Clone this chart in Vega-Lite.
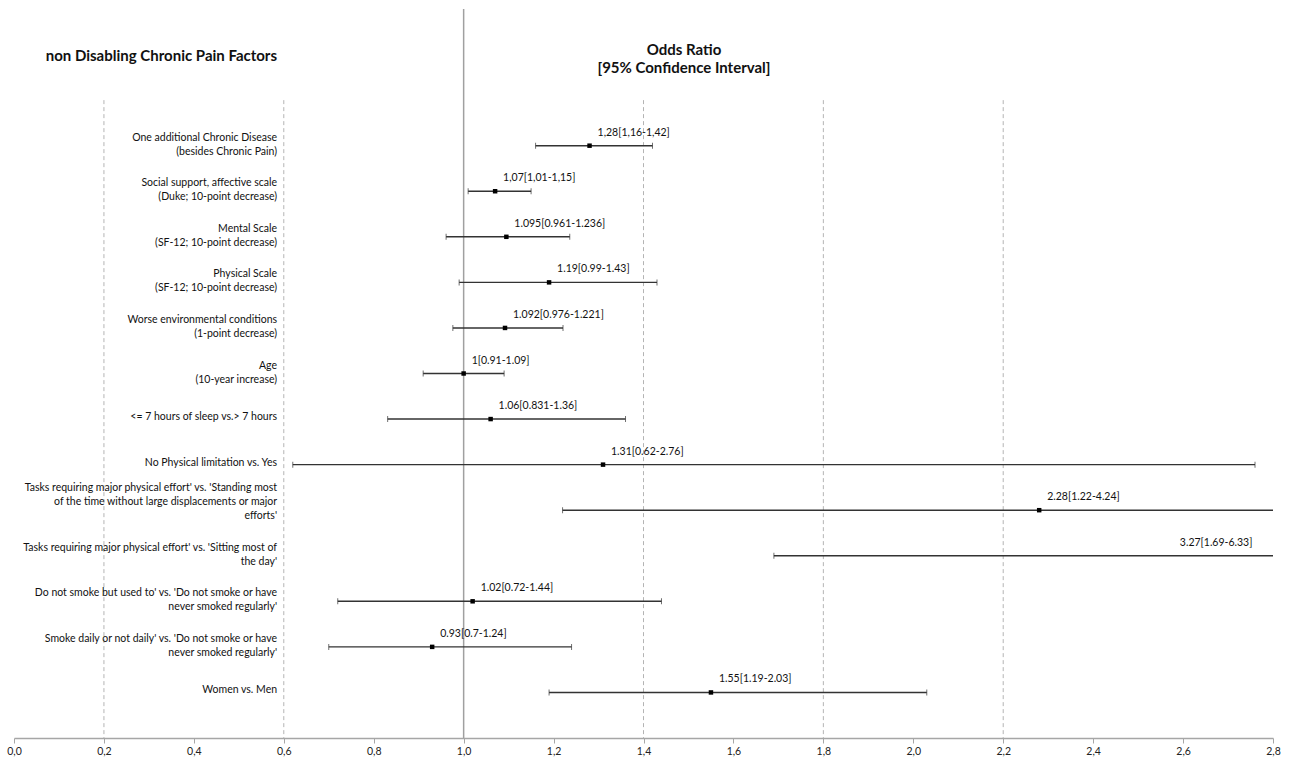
{
  "$schema": "https://vega.github.io/schema/vega-lite/v6.json",
  "width": 1259,
  "height": 729,
  "autosize": {"type": "none"},
  "padding": {"left": 14, "top": 9, "right": 18, "bottom": 20},
  "background": "white",
  "config": {
    "view": {"stroke": null},
    "font": "Lato",
    "axisX": {"grid": false,
      "domainColor": "#a6a6a6", "domainWidth": 1.5, "tickColor": "#a6a6a6", "tickSize": 5, "labelColor": "#222222",
      "labelFontSize": 10.5, "labelFont": "Lato", "labelPadding": 3, "labelFlush": false, "labelOverlap": false}
  },
  "datasets": {
    "rows": [
      {"row": 1, "label": ["One additional Chronic Disease", "(besides Chronic Pain)"], "or": 1.28, "lo": 1.16, "hi": 1.42, "txt": "1,28[1,16-1,42]"},
      {"row": 2, "label": ["Social support, affective scale", "(Duke; 10-point  decrease)"], "or": 1.07, "lo": 1.01, "hi": 1.15, "txt": "1,07[1,01-1,15]"},
      {"row": 3, "label": ["Mental Scale", "(SF-12; 10-point decrease)"], "or": 1.095, "lo": 0.961, "hi": 1.236, "txt": "1.095[0.961-1.236]"},
      {"row": 4, "label": ["Physical Scale", "(SF-12; 10-point decrease)"], "or": 1.19, "lo": 0.99, "hi": 1.43, "txt": "1.19[0.99-1.43]"},
      {"row": 5, "label": ["Worse environmental conditions", "(1-point decrease)"], "or": 1.092, "lo": 0.976, "hi": 1.221, "txt": "1.092[0.976-1.221]"},
      {"row": 6, "label": ["Age", "(10-year increase)"], "or": 1.0, "lo": 0.91, "hi": 1.09, "txt": "1[0.91-1.09]"},
      {"row": 7, "label": ["<= 7 hours of sleep vs.> 7 hours"], "or": 1.06, "lo": 0.831, "hi": 1.36, "txt": "1.06[0.831-1.36]"},
      {"row": 8, "label": ["No Physical limitation vs. Yes  "], "or": 1.31, "lo": 0.62, "hi": 2.76, "txt": "1.31[0.62-2.76]"},
      {"row": 9, "label": ["Tasks requiring major physical effort' vs. 'Standing most", "of the time without large displacements or major", "efforts'"], "or": 2.28, "lo": 1.22, "hi": 4.24, "txt": "2.28[1.22-4.24]"},
      {"row": 10, "label": ["Tasks requiring major physical effort' vs. 'Sitting most of", "the day'"], "or": 3.27, "lo": 1.69, "hi": 6.33, "txt": "3.27[1.69-6.33]"},
      {"row": 11, "label": ["Do not smoke but used to' vs. 'Do not smoke or have", "never smoked regularly'"], "or": 1.02, "lo": 0.72, "hi": 1.44, "txt": "1.02[0.72-1.44]"},
      {"row": 12, "label": ["Smoke daily or not daily' vs. 'Do not smoke or have", "never smoked regularly'"], "or": 0.93, "lo": 0.7, "hi": 1.24, "txt": "0.93[0.7-1.24]"},
      {"row": 13, "label": ["Women vs. Men"], "or": 1.55, "lo": 1.19, "hi": 2.03, "txt": "1.55[1.19-2.03]"}
    ],
    "grid": [{"g": 0.2}, {"g": 0.6}, {"g": 1.4}, {"g": 1.8}, {"g": 2.2}],
    "ref": [{"g": 1.0}],
    "head1": [{"x": 0.585, "row": -1, "t": ["non Disabling Chronic Pain Factors"]}],
    "head2": [{"x": 1.49, "row": -1, "t": ["Odds Ratio", "[95% Confidence Interval]"]}]
  },
  "layer": [
    {
      "data": {"name": "grid"},
      "mark": {"type": "rule", "strokeDash": [4, 3], "color": "#b4b4b4", "strokeWidth": 1},
      "encoding": {
        "x": {"field": "g", "type": "quantitative", "title": null, "scale": {"domain": [0, 2.8], "nice": false, "zero": false},
          "axis": {"values": [0, 0.2, 0.4, 0.6, 0.8, 1.0, 1.2, 1.4, 1.6, 1.8, 2.0, 2.2, 2.4, 2.6, 2.8],
            "labelExpr": "replace(format(datum.value, '.1f'), '.', ',')", "title": null}},
        "y": {"datum": 0, "type": "quantitative", "scale": {"domain": [-2, 14], "reverse": true, "nice": false, "zero": false}, "axis": null},
        "y2": {"datum": 14}
      }
    },
    {
      "data": {"name": "ref"},
      "mark": {"type": "rule", "color": "#a0a0a0", "strokeWidth": 1.5},
      "encoding": {
        "x": {"field": "g", "type": "quantitative", "title": null},
        "y": {"datum": -2, "type": "quantitative", "axis": null},
        "y2": {"datum": 14}
      }
    },
    {
      "data": {"name": "rows"},
      "mark": {"type": "rule", "color": "#333333", "strokeWidth": 1.4, "clip": true},
      "encoding": {
        "x": {"field": "lo", "type": "quantitative", "title": null},
        "x2": {"field": "hi"},
        "y": {"field": "row", "type": "quantitative", "axis": null}
      }
    },
    {
      "data": {"name": "rows"},
      "mark": {"type": "tick", "color": "#333333", "thickness": 1, "size": 6, "clip": true},
      "encoding": {
        "x": {"field": "lo", "type": "quantitative", "title": null},
        "y": {"field": "row", "type": "quantitative", "axis": null}
      }
    },
    {
      "data": {"name": "rows"},
      "mark": {"type": "tick", "color": "#333333", "thickness": 1, "size": 6, "clip": true},
      "encoding": {
        "x": {"field": "hi", "type": "quantitative", "title": null},
        "y": {"field": "row", "type": "quantitative", "axis": null}
      }
    },
    {
      "data": {"name": "rows"},
      "mark": {"type": "square", "color": "#000000", "size": 20, "opacity": 1, "filled": true, "clip": true},
      "encoding": {
        "x": {"field": "or", "type": "quantitative", "title": null},
        "y": {"field": "row", "type": "quantitative", "axis": null}
      }
    },
    {
      "data": {"name": "rows"},
      "transform": [{"calculate": "min(datum.or, 2.575)", "as": "lx"}],
      "mark": {"type": "text", "align": "left", "baseline": "middle", "dx": 8, "dy": -13, "fontSize": 10.5, "color": "#111111", "font": "Lato"},
      "encoding": {
        "x": {"field": "lx", "type": "quantitative", "title": null},
        "y": {"field": "row", "type": "quantitative", "axis": null},
        "text": {"field": "txt"}
      }
    },
    {
      "data": {"name": "rows"},
      "transform": [{"filter": "length(datum.label) == 1"}],
      "mark": {"type": "text", "align": "right", "baseline": "middle", "dy": -2, "fontSize": 10.5, "lineHeight": 14, "color": "#111111", "font": "Lato"},
      "encoding": {
        "x": {"datum": 0.585, "type": "quantitative", "title": null},
        "y": {"field": "row", "type": "quantitative", "axis": null},
        "text": {"field": "label"}
      }
    },
    {
      "data": {"name": "rows"},
      "transform": [{"filter": "length(datum.label) == 2"}],
      "mark": {"type": "text", "align": "right", "baseline": "middle", "dy": -8, "fontSize": 10.5, "lineHeight": 14, "color": "#111111", "font": "Lato"},
      "encoding": {
        "x": {"datum": 0.585, "type": "quantitative", "title": null},
        "y": {"field": "row", "type": "quantitative", "axis": null},
        "text": {"field": "label"}
      }
    },
    {
      "data": {"name": "rows"},
      "transform": [{"filter": "length(datum.label) == 3"}],
      "mark": {"type": "text", "align": "right", "baseline": "middle", "dy": -22, "fontSize": 10.5, "lineHeight": 14, "color": "#111111", "font": "Lato"},
      "encoding": {
        "x": {"datum": 0.585, "type": "quantitative", "title": null},
        "y": {"field": "row", "type": "quantitative", "axis": null},
        "text": {"field": "label"}
      }
    },
    {
      "data": {"name": "head1"},
      "mark": {"type": "text", "align": "right", "baseline": "middle", "dy": 1, "fontSize": 15, "fontWeight": "bold", "color": "#111111", "font": "Lato"},
      "encoding": {
        "x": {"field": "x", "type": "quantitative", "title": null},
        "y": {"field": "row", "type": "quantitative", "axis": null},
        "text": {"field": "t"}
      }
    },
    {
      "data": {"name": "head2"},
      "mark": {"type": "text", "align": "center", "baseline": "middle", "dy": -5, "fontSize": 15, "lineHeight": 18, "fontWeight": "bold", "color": "#111111", "font": "Lato"},
      "encoding": {
        "x": {"field": "x", "type": "quantitative", "title": null},
        "y": {"field": "row", "type": "quantitative", "axis": null},
        "text": {"field": "t"}
      }
    }
  ]
}
